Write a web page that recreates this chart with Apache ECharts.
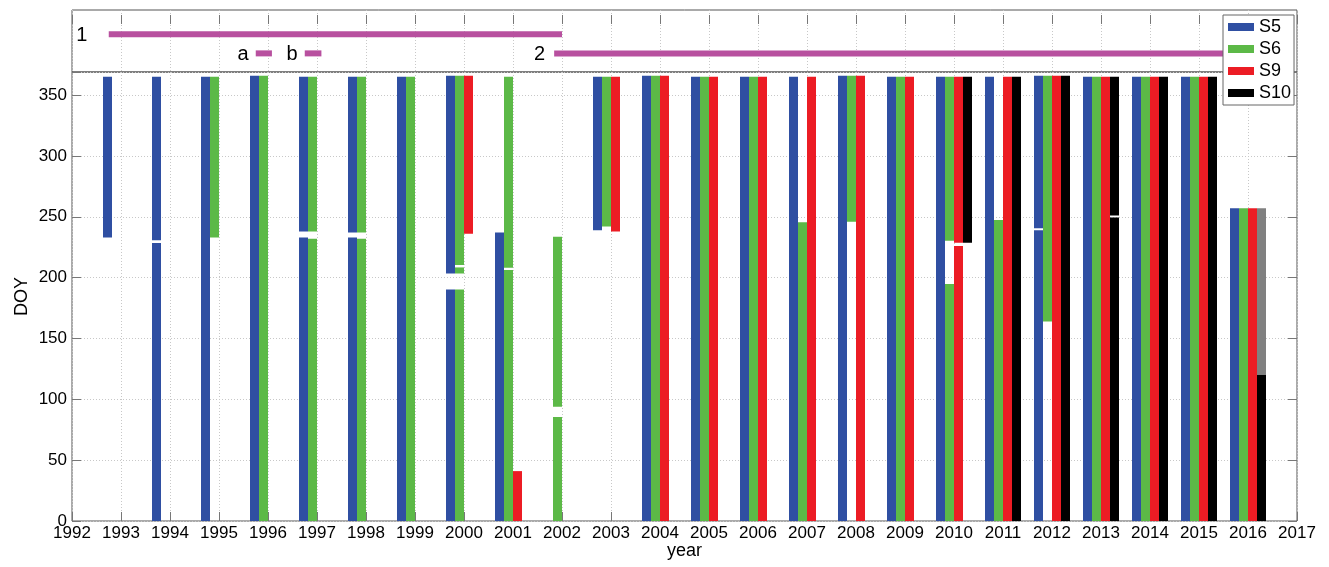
<!DOCTYPE html>
<html><head><meta charset="utf-8">
<script src="https://cdn.jsdelivr.net/npm/echarts@6/dist/echarts.min.js"></script>
<style>html,body{margin:0;padding:0;background:#fff}#c{width:1329px;height:567px}</style>
</head><body><div id="c"></div>
<script>
// ---------- data ----------
const xMin = 1992, xMax = 2017;          // year axis range
const yMax = 369;                         // DOY axis top
const stations = ['S5', 'S6', 'S9', 'S10'];
// segments of available data: [year, startDOY, endDOY]
const S5 = [
  [1993,233,365],[1994,0,228.5],[1994,230.8,365],[1995,0,365],[1996,0,366],
  [1997,0,233],[1997,238,365],[1998,0,233],[1998,237,365],[1999,0,365],
  [2000,0,190.3],[2000,203.4,366],[2001,0,237],[2003,239,365],[2004,0,366],
  [2005,0,365],[2006,0,365],[2007,0,365],[2008,0,366],[2009,0,365],
  [2010,0,365],[2011,0,365],[2012,0,239],[2012,240.6,366],[2013,0,365],
  [2014,0,365],[2015,0,365],[2016,0,257]
];
const S6 = [
  [1995,233,365],[1996,0,366],[1997,0,232],[1997,238,365],[1998,0,232],[1998,237,365],
  [1999,0,365],[2000,0,190.3],[2000,203.4,208.4],[2000,210.3,366],
  [2001,0,206.2],[2001,208.2,365],[2002,0,85.5],[2002,93.8,233.6],[2003,242,365],
  [2004,0,366],[2005,0,365],[2006,0,365],[2007,0,245.5],[2008,246,366],
  [2009,0,365],[2010,0,194.7],[2010,230.3,365],[2011,0,247.3],[2012,164,366],
  [2013,0,365],[2014,0,365],[2015,0,365],[2016,0,257]
];
const S9 = [
  [2000,236,366],[2001,0,41],[2003,238,365],[2004,0,366],[2005,0,365],
  [2006,0,365],[2007,0,365],[2008,0,366],[2009,0,365],[2010,0,225.9],
  [2010,228.6,365],[2011,0,365],[2012,0,366],[2013,0,365],[2014,0,365],
  [2015,0,365],[2016,0,257]
];
const S10 = [
  [2010,228.6,365],[2011,0,365],[2012,0,366],[2013,0,249.5],[2013,251,365],
  [2014,0,365],[2015,0,365],[2016,0,120.4]
];
const S10partial = [[2016,120.4,257]];
// periods in the upper panel
const periodNames   = ['1', 'a', 'b', '2'];
const periodStart   = [1992.75, 1995.75, 1996.75, 2001.84];
const periodEnd     = [2002.0, 1996.08, 1997.09, 2016.6];
const periodLane    = [1, 2, 2, 2];
const periodLabelAt = [1992.2, 1995.49, 1996.49, 2001.54];

// ---------- style ----------
const FONT = '"Liberation Sans", Arial, Helvetica, sans-serif';
const COLORS = {S5:'#2f4fa2', S6:'#5cb947', S9:'#ec1c24', S10:'#000000'};
const GRAY_SEG = '#808080';
const PURPLE = '#b8509f';
const BW = 0.188; // bar width in years

const chart = echarts.init(document.getElementById('c'), null, {renderer:'canvas'});

function barSeries(name, data, slot, color) {
  return {
    type: 'custom', name: name, xAxisIndex: 1, yAxisIndex: 1,
    itemStyle: {color: color},
    encode: {x: 0, y: [1, 2]},
    data: data,
    clip: true,
    renderItem: function (params, api) {
      const yr = api.value(0), lo = api.value(1), hi = api.value(2);
      const p0 = api.coord([yr + (slot - 2) * BW, lo]);
      const p1 = api.coord([yr + (slot - 1) * BW, hi]);
      const x0 = Math.round(p0[0]), x1 = Math.round(p1[0]);
      return {
        type: 'rect',
        shape: {x: x0, y: p1[1], width: x1 - x0, height: p0[1] - p1[1]},
        style: {fill: color}
      };
    }
  };
}

const periodData = periodNames.map((n, i) => [periodStart[i], periodEnd[i], periodLane[i], periodLabelAt[i]]);

const dotted = {show: true, lineStyle: {color: '#c8c8c8', type: [1, 2], width: 1}};
const tickStyle = {show: true, inside: true, length: 9, lineStyle: {color: '#777', width: 1}};

const option = {
  animation: false,
  backgroundColor: '#fff',
  grid: [
    {left: 72, right: 32, top: 10, height: 62, show: true, borderColor: '#555', borderWidth: 1, backgroundColor: '#fff'},
    {left: 72, right: 32, top: 72, bottom: 46, show: true, borderColor: '#555', borderWidth: 1, backgroundColor: 'transparent'}
  ],
  xAxis: [
    {gridIndex: 0, type: 'value', min: xMin, max: xMax, interval: 1, position: 'top',
     axisLine: {show: false}, axisTick: tickStyle, axisLabel: {show: false}, splitLine: dotted},
    {gridIndex: 1, type: 'value', min: xMin, max: xMax, interval: 1, position: 'bottom',
     name: 'year', nameLocation: 'middle', nameGap: 21, nameMoveOverlap: false,
     nameTextStyle: {fontSize: 18, fontFamily: FONT, color: '#000'},
     axisLine: {show: false}, axisTick: tickStyle,
     axisLabel: {fontSize: 17, fontFamily: FONT, color: '#000', margin: 4, formatter: v => String(v)},
     splitLine: dotted}
  ],
  yAxis: [
    {gridIndex: 0, type: 'value', min: -0.26, max: 2.97, inverse: true, show: false},
    {gridIndex: 1, type: 'value', min: 0, max: yMax, interval: 50, position: 'left',
     name: 'DOY', nameLocation: 'middle', nameGap: 41, nameRotate: 90, nameMoveOverlap: false,
     nameTextStyle: {fontSize: 18, fontFamily: FONT, color: '#000'},
     axisLine: {show: false}, axisTick: tickStyle,
     axisLabel: {fontSize: 17, fontFamily: FONT, color: '#000', margin: 5,
                 formatter: v => (v % 50 === 0 ? String(v) : '')},
     splitLine: dotted},
    {gridIndex: 1, type: 'value', min: 0, max: yMax, interval: 50, position: 'right',
     axisLine: {show: false}, axisTick: tickStyle, axisLabel: {show: false}, splitLine: {show: false}}
  ],
  legend: {
    orient: 'vertical', left: 1223, top: 15,
    padding: [3, 3, 3, 5], itemWidth: 26, itemHeight: 8, itemGap: 4,
    icon: 'rect', backgroundColor: '#fff', borderColor: '#666', borderWidth: 1, borderRadius: 0,
    textStyle: {fontSize: 18, fontFamily: FONT, color: '#000', lineHeight: 18},
    data: stations, selectedMode: false
  },
  series: [
    barSeries('S5', S5, 0, COLORS.S5),
    barSeries('S6', S6, 1, COLORS.S6),
    barSeries('S9', S9, 2, COLORS.S9),
    barSeries('S10', S10, 3, COLORS.S10),
    barSeries('S10 partial', S10partial, 3, GRAY_SEG),
    {
      type: 'custom', name: 'periods', xAxisIndex: 0, yAxisIndex: 0,
      data: periodData, encode: {x: [0, 1], y: 2}, clip: false,
      renderItem: function (params, api) {
        const s = api.coord([api.value(0), api.value(2)]);
        const e = api.coord([api.value(1), api.value(2)]);
        const t = api.coord([api.value(3), api.value(2)]);
        return {type: 'group', children: [
          {type: 'rect', shape: {x: s[0], y: s[1] - 3, width: e[0] - s[0], height: 6}, style: {fill: PURPLE}},
          {type: 'text', style: {text: periodNames[params.dataIndex], x: t[0], y: s[1] + 1, align: 'center',
            verticalAlign: 'middle', fontSize: 20, fontFamily: FONT, fill: '#000'}}
        ]};
      }
    }
  ]
};
chart.setOption(option);
</script>
</body></html>
